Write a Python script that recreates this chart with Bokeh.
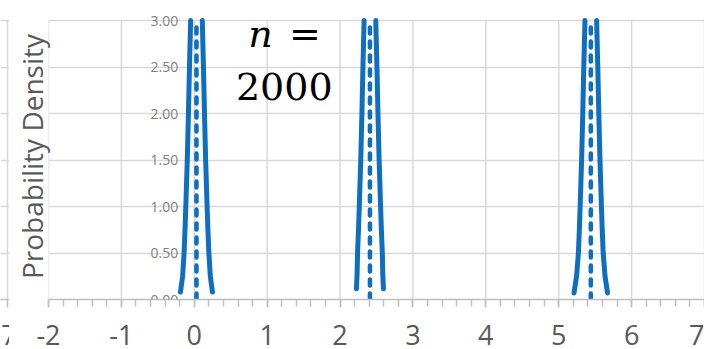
from bokeh.plotting import figure
from bokeh.layouts import row
from bokeh.models import Range1d, FixedTicker, Label, LabelSet, ColumnDataSource
from bokeh.core.properties import value
from bokeh.embed import file_html
from bokeh.resources import INLINE

# --- data -------------------------------------------------------------
x_ticks = [-2, -1, 0, 1, 2, 3, 4, 5, 6, 7]
x_tick_labels = ["-2", "-1", "0", "1", "2", "3", "4", "5", "6", "7"]
x_minor = [round(-2 + 0.2 * i, 2) for i in range(46)]
y_ticks = [0.0, 0.5, 1.0, 1.5, 2.0, 2.5, 3.0]
y_tick_labels = ["0.00", "0.50", "1.00", "1.50", "2.00", "2.50", "3.00"]
y_max = 3.0

# sample means (centre of each sampling distribution)
means = [0.03, 2.41, 5.44]

# upper part of the n = 2000 sampling density: distance from mean -> density
half_offsets = [0.17, 0.157, 0.146, 0.126, 0.11, 0.096, 0.08]
half_density = [0.50, 0.75, 1.00, 1.50, 2.00, 2.50, 3.00]
# lower tails of each curve (outermost point first)
tail_offsets = [[0.22, 0.19], [0.185, 0.176], [0.23, 0.195]]
tail_density = [[0.08, 0.25], [0.115, 0.28], [0.07, 0.25]]

BLUE = "#0E6EC0"
GRID = "#D9D9D9"
AXIS = "#BFBFBF"
TEXT = "#595959"
FONT = "Open Sans"

W, H = 704, 349
SLIVER = 9
TOP, BOTTOM = 13, 50
PX_PER_Y = (H - 20 - BOTTOM) / y_max          # 3.00 gridline sits 20px from top
Y_END = y_max + (20 - TOP) / PX_PER_Y         # headroom for the top tick label


def style_axis(fig, ticks, labels, minor):
    ax = fig.xaxis[0]
    ax.ticker = FixedTicker(ticks=ticks, minor_ticks=minor)
    ax.major_label_overrides = {t: s for t, s in zip(ticks, labels)}
    ax.axis_line_color = AXIS
    ax.axis_line_width = 1.5
    ax.major_tick_line_color = AXIS
    ax.minor_tick_line_color = AXIS
    ax.major_tick_line_width = 1.5
    ax.minor_tick_line_width = 1.5
    ax.major_tick_in = 0
    ax.major_tick_out = 8
    ax.minor_tick_in = 0
    ax.minor_tick_out = 7
    ax.major_label_text_font = FONT
    ax.major_label_text_font_size = "27px"
    ax.major_label_text_color = TEXT
    ax.major_label_standoff = 17
    fig.xgrid.visible = False
    fig.ygrid.ticker = FixedTicker(ticks=y_ticks)
    fig.ygrid.grid_line_color = GRID
    fig.ygrid.grid_line_width = 1.5
    # vertical grid lines stop at the top tick
    fig.segment(x0=ticks, y0=[0] * len(ticks), x1=ticks,
                y1=[y_max] * len(ticks), line_color=GRID, line_width=1.5)


# --- narrow neighbouring panel on the left ------------------------------
frame_left = 39
px_per_unit = (W - SLIVER - frame_left) / 9.0
left = figure(width=SLIVER, height=H,
              x_range=Range1d(7 - 7 / px_per_unit, 7 + 2 / px_per_unit),
              y_range=Range1d(0, Y_END),
              min_border_left=0, min_border_right=0,
              min_border_top=TOP, min_border_bottom=BOTTOM,
              toolbar_location=None, output_backend="svg",
              outline_line_color=None)
left.yaxis.visible = False
style_axis(left, [7], ["7"], [])

# --- main panel ---------------------------------------------------------
p = figure(width=W - SLIVER, height=H,
           x_range=Range1d(-2, 7), y_range=Range1d(0, Y_END),
           min_border_left=frame_left, min_border_right=0,
           min_border_top=TOP, min_border_bottom=BOTTOM,
           toolbar_location=None, output_backend="svg",
           outline_line_color=None)
style_axis(p, x_ticks, x_tick_labels, x_minor)

ya = p.yaxis[0]
ya.ticker = FixedTicker(ticks=[])
ya.major_label_text_font_size = "0px"
ya.major_label_standoff = 0
ya.major_tick_out = 0
ya.major_tick_in = 0
ya.minor_tick_out = 0
ya.minor_tick_in = 0
ya.axis_line_color = None
ya.axis_label = "Probability Density"
ya.axis_label_text_font = FONT
ya.axis_label_text_font_size = "28px"
ya.axis_label_text_font_style = "normal"
ya.axis_label_text_color = TEXT
ya.axis_label_standoff = -2

# y tick labels sit next to the vertical axis at x = 0
ysrc = ColumnDataSource(dict(x=[0] * len(y_ticks), y=y_ticks, t=y_tick_labels))
p.add_layout(LabelSet(x="x", y="y", text="t", source=ysrc, x_offset=-16,
                      text_font=value(FONT), text_font_size=value("14px"),
                      text_color=value("#7F7F7F"), text_align="right",
                      text_baseline="middle"))

for m, t_off, t_den in zip(means, tail_offsets, tail_density):
    offs = t_off + half_offsets
    dens = t_den + half_density
    left_x = [m - o for o in offs]
    right_x = [m + o for o in offs]
    p.multi_line(xs=[left_x, right_x], ys=[dens, dens], line_color=BLUE,
                 line_width=5, line_cap="round", line_join="round")
    p.line(x=[m, m], y=[0, y_max], line_color=BLUE, line_width=4.5,
           line_dash="6 8", line_cap="round")

p.add_layout(Label(x=0.74, y=2.86, text="n", text_font="DejaVu Serif",
                   text_font_style="italic", text_font_size="38px",
                   text_color="black", text_align="left",
                   text_baseline="middle"))
p.add_layout(Label(x=1.30, y=2.86, text="=", text_font="DejaVu Serif",
                   text_font_size="38px", text_color="black",
                   text_align="left", text_baseline="middle"))
p.add_layout(Label(x=1.235, y=2.29, text="2000", text_font="DejaVu Serif",
                   text_font_size="38px", text_color="black",
                   text_align="center", text_baseline="middle"))

layout = row(left, p, spacing=0)
open("out.html", "w").write(file_html(layout, INLINE))
